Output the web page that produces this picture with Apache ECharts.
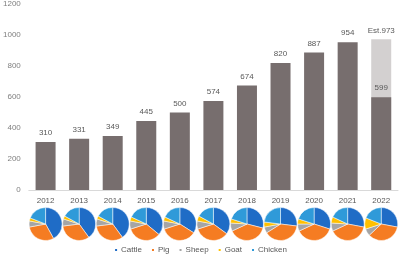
<!DOCTYPE html>
<html>
<head>
    <meta charset="utf-8">
    <title>ECharts</title>
    <script src="https://cdn.jsdelivr.net/npm/echarts@6/dist/echarts.min.js"></script>
    <style>
        body { margin: 0; background: #fff; }
    </style>
</head>
<body>
    <div id="main" style="width: 400px;height:257px;"></div>

    <script type="text/javascript">
        // data
        var years = ['2012','2013','2014','2015','2016','2017','2018','2019','2020','2021','2022'];
        var actual = [310, 331, 349, 445, 500, 574, 674, 820, 887, 954, 599];
        var estimate = [null, null, null, null, null, null, null, null, null, null, 973];
        var yTicks = [0, 200, 400, 600, 800, 1000, 1200];

        var kinds = ['Cattle', 'Pig', 'Sheep', 'Goat', 'Chicken'];
        var kindColors = ['#1f6cc6', '#f57c22', '#a5a5a5', '#ffc000', '#2f9ad9'];
        // share of each kind per year (Cattle, Pig, Sheep, Goat, Chicken)
        var shares = [
            [42, 30, 6, 3, 19],
            [40, 33, 7, 3, 17],
            [40, 33, 7, 3, 17],
            [36, 34, 8, 4, 18],
            [34, 36, 8, 4, 18],
            [35, 35, 8, 5, 17],
            [29, 39, 8, 4, 20],
            [27, 39, 6, 5, 23],
            [30, 38, 7, 5, 20],
            [28, 40, 8, 6, 18],
            [28, 35, 7, 11, 19]
        ];

        var font = '"Liberation Sans", sans-serif';
        var txt = '#595959';

        var myChart = echarts.init(document.getElementById('main'));

        option = {
            animation: false,
            textStyle: { fontFamily: font },
            color: kindColors,
            grid: { left: 24, right: 2, top: 4, bottom: 67 },
            legend: {
                top: 246,
                left: 'center',
                padding: 0,
                icon: 'rect',
                itemWidth: 4,
                itemHeight: 4,
                itemGap: 8,
                textStyle: { fontSize: 8, color: txt, fontFamily: font, padding: [0, 0, 0, -2] },
                data: kinds
            },
            xAxis: {
                type: 'category',
                data: years,
                axisTick: { show: false },
                axisLine: { lineStyle: { color: '#d9d9d9' } },
                axisLabel: { color: txt, fontSize: 8, margin: 7, fontFamily: font }
            },
            yAxis: {
                type: 'value',
                min: yTicks[0],
                max: yTicks[yTicks.length - 1],
                interval: 200,
                splitLine: { show: false },
                axisLabel: {
                    color: '#7f7f7f', fontSize: 8, margin: 8, fontFamily: font,
                    formatter: function (v) { return String(v); }
                }
            },
            series: [
                {
                    name: 'Estimate',
                    type: 'bar',
                    barWidth: 20,
                    barGap: '-100%',
                    data: estimate,
                    itemStyle: { color: '#d3d0d0' },
                    label: {
                        show: true, position: 'top', distance: 4,
                        color: txt, fontSize: 8, fontFamily: font,
                        formatter: function (p) { return 'Est.' + p.value; }
                    }
                },
                {
                    name: 'Actual',
                    type: 'bar',
                    barWidth: 20,
                    barGap: '-100%',
                    data: actual,
                    itemStyle: { color: '#776e6e' },
                    label: {
                        show: true, position: 'top', distance: 5,
                        color: txt, fontSize: 8, fontFamily: font
                    }
                }
            ]
        };

        myChart.setOption(option);

        // one small pie under every year, placed with the category axis
        var pies = [];
        for (var i = 0; i < years.length; i++) {
            var cx = myChart.convertToPixel({ xAxisIndex: 0 }, years[i]);
            var d = [];
            for (var k = 0; k < kinds.length; k++) {
                d.push({ name: kinds[k], value: shares[i][k] });
            }
            pies.push({
                type: 'pie',
                name: years[i],
                center: [cx, 224],
                radius: 16.5,
                startAngle: 90,
                label: { show: false },
                labelLine: { show: false },
                itemStyle: { borderColor: '#fff', borderWidth: 0.5 },
                data: d
            });
        }
        myChart.setOption({ series: option.series.concat(pies) });
    </script>
</body>
</html>
